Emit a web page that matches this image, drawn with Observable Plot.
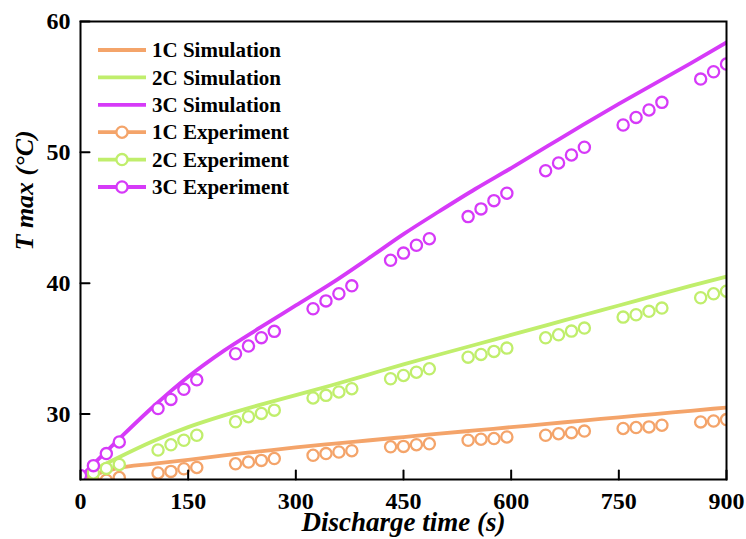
<!DOCTYPE html>
<html><head><meta charset="utf-8">
<script src="https://cdn.jsdelivr.net/npm/d3@7"></script>
<script src="https://cdn.jsdelivr.net/npm/@observablehq/plot@0.6"></script>
<style>
body{margin:0;background:#fff;}
#wrap{position:relative;width:746px;height:539px;overflow:hidden;}
#wrap svg{position:absolute;left:0;top:0;}
</style></head><body><div id="wrap"></div>
<script>
// ---- data ----
const seriesNames = ["1C", "2C", "3C"];
const seriesColors = ["#F4A46A", "#C0EE6C", "#D63AF8"];
const xTicks = [0, 150, 300, 450, 600, 750, 900];
const yTicks = [30, 40, 50, 60];

const simTime = [0, 50, 100, 150, 200, 250, 300, 350, 400, 450, 500, 550, 600, 650, 700, 750, 800, 850, 900];
const sim1C = [25.0, 25.85, 26.2, 26.5, 26.85, 27.15, 27.45, 27.72, 27.98, 28.24, 28.5, 28.75, 29.0, 29.25, 29.5, 29.75, 30.0, 30.25, 30.5];
const sim2C = [25.2, 26.6, 27.9, 29.0, 29.9, 30.7, 31.45, 32.2, 33.0, 33.8, 34.55, 35.3, 36.05, 36.8, 37.55, 38.3, 39.05, 39.8, 40.5];
const sim3C = [25.2, 27.9, 30.5, 32.85, 34.85, 36.6, 38.3, 40.0, 41.85, 43.75, 45.5, 47.2, 48.8, 50.45, 52.1, 53.7, 55.25, 56.8, 58.4];

const expTime = [0, 18, 36, 54, 108, 126, 144, 162, 216, 234, 252, 270, 324, 342, 360, 378, 432, 450, 468, 486,
  540, 558, 576, 594, 648, 666, 684, 702, 756, 774, 792, 810, 864, 882, 900];
const exp1C = [25.0, 24.9, 24.95, 25.15, 25.5, 25.62, 25.82, 25.92, 26.2, 26.33, 26.46, 26.6, 26.85, 26.98, 27.1, 27.2,
  27.5, 27.53, 27.66, 27.73, 28.0, 28.08, 28.13, 28.25, 28.38, 28.5, 28.58, 28.7, 28.9, 28.97, 29.02, 29.15, 29.4, 29.47, 29.58];
const exp2C = [25.2, 25.5, 25.85, 26.15, 27.25, 27.65, 28.0, 28.38, 29.41, 29.8, 30.05, 30.3, 31.23, 31.43, 31.69, 31.94,
  32.7, 32.95, 33.2, 33.46, 34.35, 34.56, 34.79, 35.04, 35.83, 36.06, 36.34, 36.57, 37.41, 37.59, 37.85, 38.1, 38.89, 39.19, 39.39];
const exp3C = [25.3, 26.06, 26.98, 27.87, 30.42, 31.12, 31.89, 32.62, 34.61, 35.2, 35.84, 36.32, 38.05, 38.65, 39.2, 39.8,
  41.75, 42.3, 42.9, 43.4, 45.09, 45.68, 46.31, 46.88, 48.6, 49.19, 49.8, 50.39, 52.09, 52.67, 53.24, 53.82, 55.6, 56.16, 56.75];

const xLabel = "Discharge time (s)";
const yLabel = "T max (°C)";

// ---- tables ----
const simSeries = [sim1C, sim2C, sim3C];
const expSeries = [exp1C, exp2C, exp3C];
const simData = seriesNames.flatMap((s, i) => simTime.map((t, j) => ({series: s, t, T: simSeries[i][j]})));
const expData = seriesNames.flatMap((s, i) => expTime.map((t, j) => ({series: s, t, T: expSeries[i][j]})));

const font = "'Liberation Serif', 'Times New Roman', serif";
const tickShape = {draw(ctx, l) { ctx.moveTo(0, 0); ctx.lineTo(0, -l); }};

const plot = Plot.plot({
  width: 746, height: 539,
  marginLeft: 80, marginRight: 20, marginTop: 21, marginBottom: 60,
  style: {fontFamily: font, fontWeight: "bold", fontSize: "24px", color: "#000", background: "#fff", overflow: "visible"},
  x: {domain: [0, 900]},
  y: {domain: [25, 60]},
  color: {domain: seriesNames, range: seriesColors},
  marks: [
    Plot.line(simData, {x: "t", y: "T", z: "series", stroke: "series", strokeWidth: 3.8, curve: "monotone-x", clip: true}),
    Plot.dot(expData, {x: "t", y: "T", stroke: "series", fill: "white", r: 5.6, strokeWidth: 2.3, clip: true}),
    Plot.frame({stroke: "#000", strokeWidth: 2}),
    // inward ticks
    Plot.vector(xTicks, {x: d => d, frameAnchor: "bottom", rotate: 0, length: 9, anchor: "start", stroke: "#000", strokeWidth: 2, shape: tickShape}),
    Plot.vector(yTicks, {y: d => d, frameAnchor: "left", rotate: 90, length: 9, anchor: "start", stroke: "#000", strokeWidth: 2, shape: tickShape}),
    Plot.axisX({ticks: xTicks, tickSize: 0, tickPadding: 12, tickFormat: d => d, fontSize: 24, label: null}),
    Plot.axisY({ticks: yTicks, tickSize: 0, tickPadding: 10, tickFormat: d => d, fontSize: 24, label: null}),
    Plot.text([xLabel], {frameAnchor: "bottom", dy: 51, text: d => d, fontSize: 27, fontStyle: "italic", fontWeight: "bold"}),
    Plot.text([yLabel], {frameAnchor: "left", dx: -56, rotate: -90, text: d => d, fontSize: 26, fontStyle: "italic", fontWeight: "bold"})
  ]
});
document.getElementById("wrap").appendChild(plot);

// ---- legend overlay ----
const legendItems = [
  ...seriesNames.map((s, i) => ({label: s + " Simulation", color: seriesColors[i], marker: false})),
  ...seriesNames.map((s, i) => ({label: s + " Experiment", color: seriesColors[i], marker: true}))
];
const lg = d3.create("svg").attr("width", 746).attr("height", 539).style("pointer-events", "none");
const rows = lg.selectAll("g").data(legendItems).join("g")
  .attr("transform", (d, i) => `translate(98,${50 + i * 27.4})`);
rows.append("line").attr("x1", 0).attr("x2", 48).attr("y1", 0).attr("y2", 0)
  .attr("stroke", d => d.color).attr("stroke-width", 3.8);
rows.filter(d => d.marker).append("circle").attr("cx", 24).attr("cy", 0).attr("r", 5.6)
  .attr("fill", "white").attr("stroke", d => d.color).attr("stroke-width", 2.3);
rows.append("text").attr("x", 54).attr("y", 0).attr("dy", "0.34em")
  .attr("font-family", font).attr("font-weight", "bold").attr("font-size", 21).attr("fill", "#000")
  .text(d => d.label);
document.getElementById("wrap").appendChild(lg.node());
</script>
</body></html>
